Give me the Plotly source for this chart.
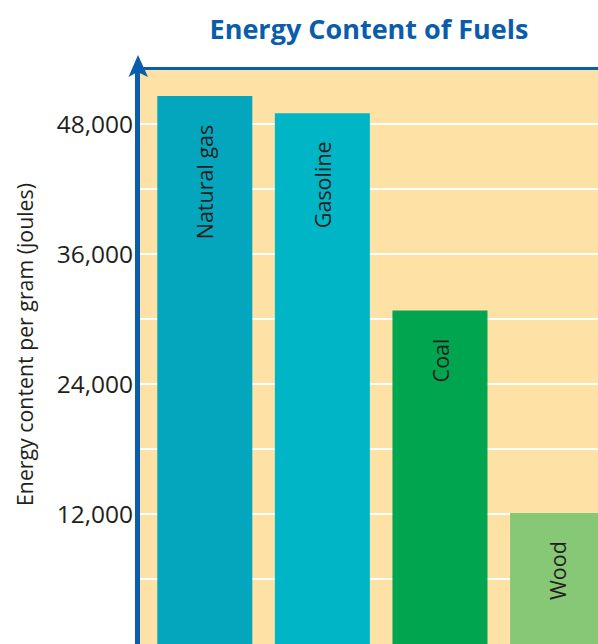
import plotly.graph_objects as go

# Data
fuels = ["Natural gas", "Gasoline", "Coal", "Wood"]
energy_j_per_g = [50600, 49000, 30800, 12100]
bar_colors = ["#03A6BC", "#00B5C6", "#00A54F", "#86C876"]
tick_vals = [12000, 24000, 36000, 48000]
tick_text = ["12,000", "24,000", "36,000", "48,000"]

BLUE = "#0A5DAA"
BG = "#FEE1A5"
TXT = "#231F20"
FONT = "Open Sans"

fig = go.Figure()
fig.add_trace(go.Bar(
    x=fuels, y=energy_j_per_g,
    marker=dict(color=bar_colors, line=dict(width=0)),
    width=0.808,
    hoverinfo="skip",
))

for f, v in zip(fuels, energy_j_per_g):
    fig.add_annotation(
        x=f, y=v, xref="x", yref="y",
        text=f, textangle=-90, showarrow=False,
        yanchor="top", xanchor="center", yshift=-26,
        font=dict(family=FONT, size=21.5, color=TXT),
    )

# y axis title
fig.add_annotation(
    text="Energy content per gram (joules)",
    x=0, xref="paper", xanchor="center", xshift=-116,
    y=0.5, yref="paper", yanchor="middle", yshift=12,
    textangle=-90, showarrow=False,
    font=dict(family=FONT, size=21.3, color=TXT),
)

# arrow head on the y axis
fig.add_shape(
    type="path", xref="paper", yref="paper",
    xsizemode="pixel", ysizemode="pixel", xanchor=0, yanchor=1,
    path="M -2,15 L -11.5,-7 L -2.5,-2 L 8,-7 Z",
    fillcolor=BLUE, line=dict(width=0), layer="above",
)

fig.update_layout(
    width=598, height=644,
    margin=dict(l=140, r=0, t=70, b=0),
    paper_bgcolor="white",
    plot_bgcolor=BG,
    showlegend=False,
    title=dict(
        text="<b>Energy Content of Fuels</b>",
        x=0.5, xref="paper", xanchor="center",
        y=1 - 30 / 644, yref="container", yanchor="middle",
        font=dict(family=FONT, size=27, color=BLUE),
    ),
    xaxis=dict(
        type="category",
        range=[-0.551, 3.344],
        side="top",
        showticklabels=False,
        showgrid=False,
        showline=True, linewidth=3, linecolor=BLUE,
        ticks="",
        fixedrange=True,
    ),
    yaxis=dict(
        range=[0, 53000],
        tickvals=tick_vals, ticktext=tick_text,
        tickfont=dict(family=FONT, size=24.5, color=TXT),
        ticks="",
        ticklabelstandoff=-3,
        showgrid=True, gridcolor="white", gridwidth=2,
        minor=dict(dtick=6000, showgrid=True, gridcolor="white", gridwidth=2),
        zeroline=False,
        showline=True, linewidth=5, linecolor=BLUE,
        fixedrange=True,
    ),
)

fig.write_html(
    "out.html",
    config={"displayModeBar": False},
    post_script="document.body.style.margin='0';document.body.style.overflow='hidden';",
)
